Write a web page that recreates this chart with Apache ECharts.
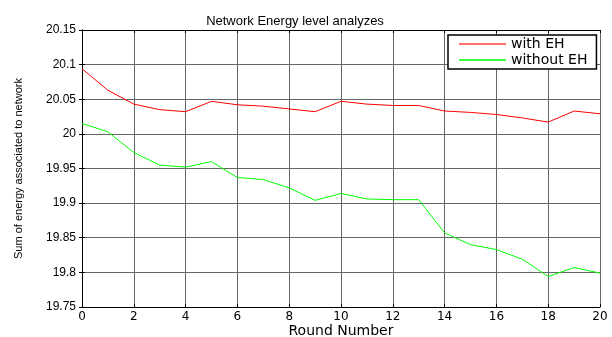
<!DOCTYPE html>
<html><head><meta charset="utf-8">
<script src="https://cdn.jsdelivr.net/npm/echarts@6/dist/echarts.min.js"></script>
<style>html,body{margin:0;padding:0;background:#fff}#c{width:612px;height:337px}</style>
</head><body><div id="c"></div>
<script>
var rounds = [0,1,2,3,4,5,6,7,8,9,10,11,12,13,14,15,16,17,18,19,20];
var withEH = [20.094,20.063,20.043,20.035,20.032,20.047,20.042,20.040,20.036,20.032,20.047,20.043,20.041,20.041,20.033,20.031,20.028,20.023,20.017,20.033,20.029];
var withoutEH = [20.015,20.003,19.973,19.955,19.952,19.960,19.937,19.934,19.922,19.904,19.914,19.906,19.905,19.905,19.857,19.840,19.833,19.819,19.794,19.807,19.799];
var seriesNames = ['with EH','without EH'];
var title = 'Network Energy level analyzes';
var xName = 'Round Number';
var yName = 'Sum of energy associated to network';

function pairs(v){ return rounds.map(function(r,i){ return [r, v[i]]; }); }
var font = 'Liberation Sans, Arial, sans-serif';
var wide = 'DejaVu Sans, sans-serif';
var chart = echarts.init(document.getElementById('c'));
chart.setOption({
  animation:false,
  title:{text:title,left:290,top:10,textAlign:'center',textStyle:{fontFamily:font,fontSize:13,fontWeight:'normal',color:'#000'}},
  grid:{left:82,right:12,top:30,bottom:30,outerBoundsMode:'none',containLabel:false},
  legend:{
    orient:'vertical',left:448,top:35,
    itemWidth:47,itemHeight:2,itemGap:2,
    padding:[2,9,2,11],
    borderColor:'#000',borderWidth:1.5,backgroundColor:'#fff',
    textStyle:{fontFamily:wide,fontSize:14,color:'#000'},
    data:[{name:seriesNames[0],icon:'rect',itemStyle:{color:'#ff7070'}},{name:seriesNames[1],icon:'rect',itemStyle:{color:'#40ff40'}}]
  },
  xAxis:[{
    type:'value',min:0,max:20,interval:2,
    name:xName,nameLocation:'middle',nameGap:17,nameMoveOverlap:false,
    nameTextStyle:{fontFamily:wide,fontSize:14,color:'#000',verticalAlign:'top'},
    axisLine:{lineStyle:{color:'#000',width:1}},
    axisTick:{inside:true,length:3,lineStyle:{color:'#000'}},
    axisLabel:{fontFamily:wide,fontSize:12,color:'#000',margin:4},
    splitLine:{show:true,lineStyle:{color:'#666',width:1}}
  },{
    type:'value',min:0,max:20,interval:2,position:'top',
    axisLine:{show:true,lineStyle:{color:'#000',width:1}},
    axisTick:{inside:true,length:3,lineStyle:{color:'#000'}},
    axisLabel:{show:false},splitLine:{show:false}
  }],
  yAxis:[{
    type:'value',min:19.75,max:20.15,interval:0.05,
    name:yName,nameLocation:'middle',nameGap:58,nameMoveOverlap:false,
    nameTextStyle:{fontFamily:font,fontSize:11,color:'#000'},
    axisLine:{show:true,lineStyle:{color:'#000',width:1}},
    axisTick:{show:true,inside:true,length:3,lineStyle:{color:'#000'}},
    axisLabel:{fontFamily:font,fontSize:12,color:'#000',margin:6,
      formatter:function(v){return String(parseFloat(v.toFixed(2)));}},
    splitLine:{show:true,lineStyle:{color:'#666',width:1}}
  },{
    type:'value',min:19.75,max:20.15,interval:0.05,position:'right',
    axisLine:{show:true,lineStyle:{color:'#000',width:1}},
    axisTick:{show:true,inside:true,length:3,lineStyle:{color:'#000'}},
    axisLabel:{show:false},splitLine:{show:false}
  }],
  series:[
    {name:seriesNames[0],type:'line',data:pairs(withEH),symbol:'none',lineStyle:{color:'#ff0000',width:1},itemStyle:{color:'#ff0000'}},
    {name:seriesNames[1],type:'line',data:pairs(withoutEH),symbol:'none',lineStyle:{color:'#00ff00',width:1},itemStyle:{color:'#00ff00'}}
  ]
});
</script></body></html>
